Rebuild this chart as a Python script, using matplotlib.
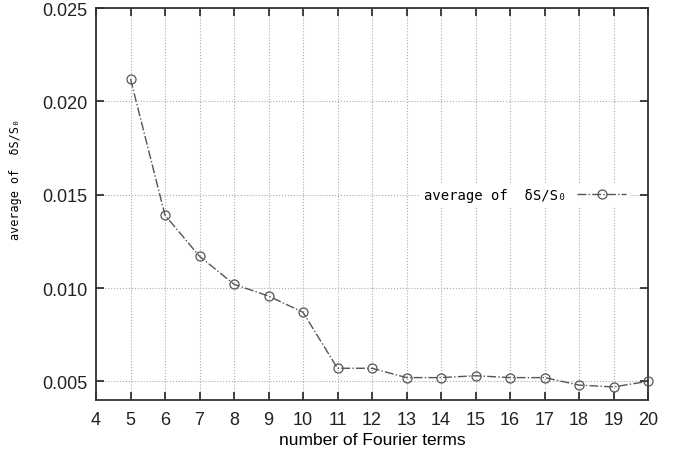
import matplotlib
matplotlib.use("Agg")
import matplotlib.pyplot as plt

# number of Fourier terms vs average relative error
n_terms = [5, 6, 7, 8, 9, 10, 11, 12, 13, 14, 15, 16, 17, 18, 19, 20]
avg_err = [0.0212, 0.0139, 0.0117, 0.0102, 0.00957, 0.0087, 0.0057, 0.0057,
           0.0052, 0.0052, 0.0053, 0.0052, 0.0052, 0.0048, 0.0047, 0.0050]
x_ticks = list(range(4, 21))
y_ticks = [0.005, 0.010, 0.015, 0.020, 0.025]

mono = ['DejaVu Sans Mono', 'Noto Sans CJK JP']
label = 'average of  \u03b4S/S\u2080'

plt.rcParams['font.family'] = ['Liberation Sans', 'DejaVu Sans']

fig = plt.figure(figsize=(6.85, 4.52), dpi=100)
ax = fig.add_axes([96 / 685, 51 / 452, 552 / 685, 392 / 452])

ax.plot(n_terms, avg_err, color='#555555', linestyle='-.', linewidth=1.0,
        marker='o', markersize=6.5, markerfacecolor='none',
        markeredgecolor='#555555', markeredgewidth=0.9, label=label,
        clip_on=False, zorder=3)

ax.set_xlim(4, 20)
ax.set_ylim(0.004, 0.025)
ax.set_xticks(x_ticks)
ax.set_yticks(y_ticks)
ax.set_yticklabels([f'{v:.3f}' for v in y_ticks])
ax.grid(True, color='#aaaaaa', linestyle=':', linewidth=0.8)
ax.tick_params(direction='in', length=6, width=1.2, top=True, right=True,
               labelsize=13, colors='#222222')
ax.tick_params(axis='x', pad=8)
ax.tick_params(axis='y', pad=6)
for s in ax.spines.values():
    s.set_linewidth(1.3)
    s.set_color('#333333')

ax.set_xlabel('number of Fourier terms', fontsize=12.5, labelpad=3)
ax.set_ylabel(label, fontsize=8.5, family=mono)
ax.yaxis.set_label_coords(-0.134, 0.564)

leg = ax.legend(loc='center right', bbox_to_anchor=(534 / 552, 0.524),
                frameon=True, prop={'family': mono, 'size': 10},
                markerfirst=False, handlelength=3.5, handletextpad=0.8,
                borderpad=0.3, borderaxespad=0.0)
leg.get_frame().set_edgecolor('none')
leg.get_frame().set_facecolor('white')
leg.get_frame().set_alpha(1.0)
leg.get_frame().set_boxstyle('square', pad=0.0)

fig.savefig('out.png', dpi=100)
